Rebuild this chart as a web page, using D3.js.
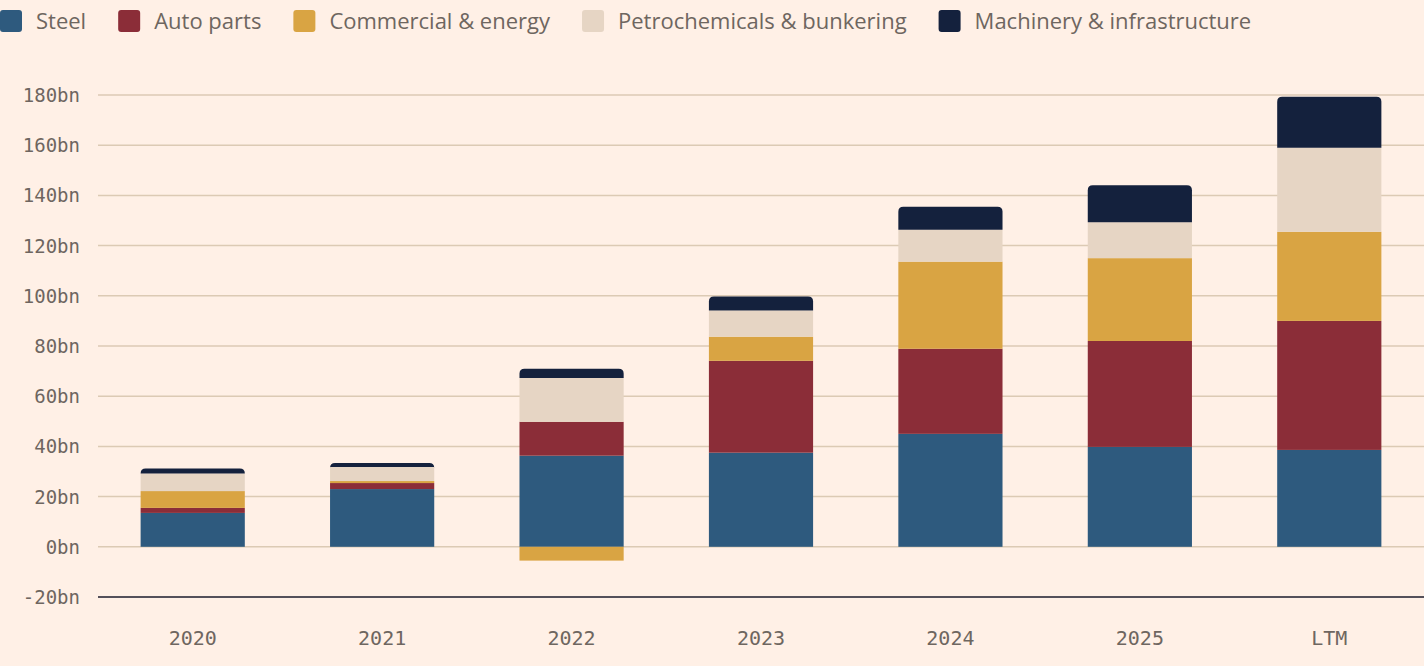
<!DOCTYPE html>
<html><head><meta charset="utf-8">
<script src="https://cdn.jsdelivr.net/npm/d3@7"></script>
<style>
body{margin:0;background:#fff0e6;}
svg{display:block;}
</style></head>
<body>
<div id="chart"></div>
<script>
// categories and series
const years = ["2020", "2021", "2022", "2023", "2024", "2025", "LTM"];
const seriesNames = ["Steel", "Auto parts", "Commercial & energy", "Petrochemicals & bunkering", "Machinery & infrastructure"];
const colors = ["#2e5a7e", "#8b2d38", "#d9a443", "#e6d5c4", "#14213d"];
const steel = [13.5, 23, 36.3, 37.5, 45, 39.8, 38.6];
const autoParts = [2, 2.4, 13.5, 36.6, 33.9, 42.2, 51.4];
const commercial = [6.7, 0.8, -5.5, 9.6, 34.7, 33, 35.5];
const petro = [7, 5.6, 17.5, 10.4, 12.7, 14.3, 33.5];
const machinery = [2, 1.6, 3.6, 5.6, 9.2, 14.7, 20.3];
const yTicks = [-20, 0, 20, 40, 60, 80, 100, 120, 140, 160, 180];

const series = [steel, autoParts, commercial, petro, machinery];
const W = 1424, H = 666;

const svg = d3.select("#chart").append("svg")
    .attr("width", W)
    .attr("height", H);

const x = d3.scaleBand().domain(years).range([98, 1424]).paddingInner(0.45).paddingOuter(0.225);
const y = d3.scaleLinear().domain([-20, 180]).range([597, 95]);

// grid
svg.append("g").selectAll("line")
    .data(yTicks.filter(t => t > -20))
    .enter().append("line")
    .attr("x1", 98).attr("x2", W)
    .attr("y1", d => y(d)).attr("y2", d => y(d))
    .attr("stroke", "#dccab4").attr("stroke-width", 1.5);

svg.append("line")
    .attr("x1", 98).attr("x2", W)
    .attr("y1", y(-20)).attr("y2", y(-20))
    .attr("stroke", "#1b1b2b").attr("stroke-width", 1.5);

svg.append("g").selectAll("text")
    .data(yTicks)
    .enter().append("text")
    .attr("x", 80).attr("y", d => y(d) + 7)
    .attr("text-anchor", "end")
    .attr("font-family", "DejaVu Sans Mono, monospace")
    .attr("font-size", 19)
    .attr("fill", "#6e6660")
    .text(d => d + "bn");

svg.append("g").selectAll("text")
    .data(years)
    .enter().append("text")
    .attr("x", d => x(d) + x.bandwidth() / 2).attr("y", 645)
    .attr("text-anchor", "middle")
    .attr("font-family", "DejaVu Sans Mono, monospace")
    .attr("font-size", 20)
    .attr("fill", "#6e6660")
    .text(d => d);

// stacked segments
const r = 5;
years.forEach((yr, i) => {
    let pos = 0, neg = 0;
    const segs = [];
    series.forEach((s, k) => {
        const v = s[i];
        if (v >= 0) { segs.push({k, y0: pos, y1: pos + v}); pos += v; }
        else { segs.push({k, y0: neg + v, y1: neg}); neg += v; }
    });
    const topK = segs.filter(s => s.y1 > 0 && s.y1 === pos).map(s => s.k).pop();
    const x0 = x(yr), w = x.bandwidth();
    segs.forEach(s => {
        const ya = y(s.y1), yb = y(s.y0);
        if (s.k === topK) {
            svg.append("path")
                .attr("d", `M${x0},${yb}V${ya + r}Q${x0},${ya} ${x0 + r},${ya}H${x0 + w - r}Q${x0 + w},${ya} ${x0 + w},${ya + r}V${yb}Z`)
                .attr("fill", colors[s.k]);
        } else {
            svg.append("rect")
                .attr("x", x0).attr("y", ya)
                .attr("width", w).attr("height", yb - ya)
                .attr("fill", colors[s.k]);
        }
    });
});

// legend
const leg = svg.append("g");
let lx = 0;
seriesNames.forEach((n, k) => {
    leg.append("rect").attr("x", lx).attr("y", 10).attr("width", 22).attr("height", 22)
        .attr("rx", 3).attr("fill", colors[k]);
    const t = leg.append("text").attr("x", lx + 36).attr("y", 29)
        .attr("font-family", "Open Sans, sans-serif").attr("font-size", 22)
        .attr("fill", "#6e6660").text(n);
    lx += 36 + t.node().getComputedTextLength() + 32;
});
</script>
</body></html>
